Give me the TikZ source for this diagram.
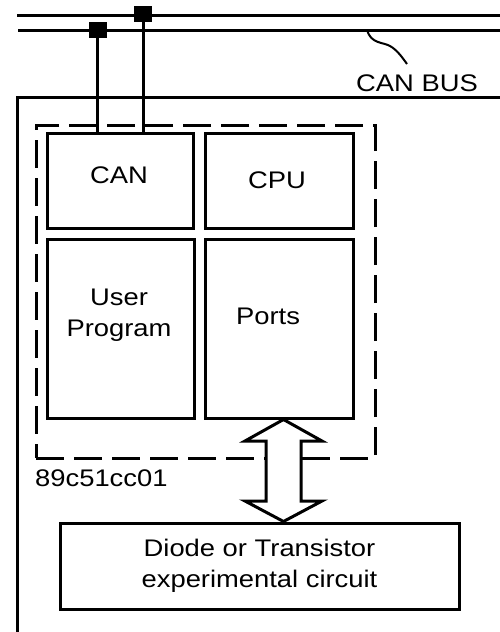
\documentclass[tikz,border=0pt]{standalone}
\usepackage{fontspec}
\setmainfont{Liberation Sans}[FakeStretch=1.14]
\begin{document}
\begin{tikzpicture}[x=1pt,y=-1pt,
  every node/.style={font=\fontsize{24}{31}\selectfont},
  box/.style={draw,line width=3pt,inner sep=0pt,anchor=center},
  busline/.style={line width=3pt},
  tap/.style={fill=black,draw=none,minimum width=18pt,minimum height=16pt,inner sep=0pt},
  wire/.style={line width=3pt},
  txt/.style={inner sep=0pt,align=center},
  mcubox/.style={draw,line width=3pt,dash pattern=on 28pt off 10pt,dash phase=0pt,inner sep=0pt}]
\useasboundingbox (0,0) rectangle (500,632);
% outer board
\draw[line width=3pt] (17,640) |- (510,97);
% bus
\coordinate (b1l) at (17,15); \coordinate (b1r) at (505,15);
\coordinate (b2l) at (18,30); \coordinate (b2r) at (505,30);
\draw[busline] (b1l) -- (b1r);
\draw[busline] (b2l) -- (b2r);
% dashed MCU box
\node[mcubox,minimum width=339pt,minimum height=333pt] (mcu) at (205.5,291.5) {};
\node[txt,anchor=west] (mcul) at (35,478) {89c51cc01};
% inner blocks
\node[box,minimum width=146pt,minimum height=95pt] (can) at (120,180.5) {};
\node[box,minimum width=148pt,minimum height=95pt] (cpu) at (279,180.5) {};
\node[box,minimum width=147pt,minimum height=179pt] (user) at (120.5,328.5) {};
\node[box,minimum width=148pt,minimum height=179pt] (ports) at (279,328.5) {};
\node[txt] (cant) at (119,175) {CAN};
\node[txt] (cput) at (277,180) {CPU};
\node[txt] (usert) at (119,315) {User\\Program};
\node[txt] (portst) at (268,316) {Ports};
% taps
\node[tap] (t1) at (142.5,13.5) {};
\node[tap] (t2) at (98,30) {};
\draw[wire] (t1.south) ++(0.5,0) coordinate (t1s) -- (t1s |- can.north);
\draw[wire] (t2.south) ++(-1,0) coordinate (t2s) -- (t2s |- can.north);
% bus label
\node[txt] (buslab) at (417,83) {CAN BUS};
\coordinate (bt) at (367,30);
\coordinate (be) at (407,64);
\draw[line width=2pt] (bt) .. controls (371,44) and (383,42) .. (390,46) .. controls (397,50) and (402,57) .. (be);
% experimental circuit
\node[box,minimum width=399pt,minimum height=86pt,txt] (exp) at (259.5,566) {Diode or Transistor\\experimental circuit};
% double arrow
\draw[line width=3pt,fill=white,line join=miter] (ports.south -| 283.5,0) -- (322,441) -- (301,441) -- (301,501) -- (322,501) -- (exp.north -| 283.5,0) -- (245,501) -- (266,501) -- (266,441) -- (245,441) -- cycle;
\end{tikzpicture}
\end{document}
